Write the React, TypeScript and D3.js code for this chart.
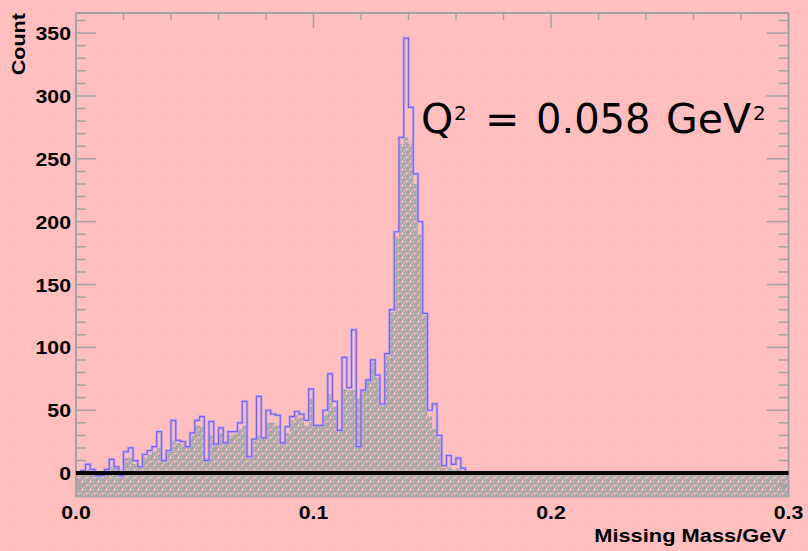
import React from "react";
import * as d3 from "d3";

// ---- data (bin width 0.002 GeV, starting at 0) ----
const binWidth = 0.002;
const nBins = 150;
const outlineCounts = [
  0, 2, 7, 3, -2, -2, 3, 11, 5, -2,
  17, 20, 10, 5, 15, 18, 21, 33, 10, 18, 42,
  26, 25, 21, 32, 42, 45, 10, 41, 23, 36, 24, 33, 33, 40, 57, 13, 27, 61, 28, 50,
  47, 46, 24, 37, 45, 49, 47, 42, 67, 38, 38, 50, 79, 57, 34, 92, 68, 114, 21, 66,
  74, 90, 78, 55, 95, 130, 192, 267, 346, 291, 238, 200, 127, 50, 55, 30, 6, 14, 7, 12,
  4, 1,
];
const filledCounts = [
  0, 1, 3, 1, -1, -1, 2, 5, 4, -1,
  12, 13, 7, 5, 13, 15, 17, 20, 11, 17, 26,
  24, 23, 21, 30, 38, 37, 12, 30, 22, 32, 24, 30, 31, 35, 38, 14, 26, 30, 28, 40,
  40, 38, 24, 32, 42, 46, 44, 38, 59, 38, 38, 46, 63, 53, 34, 67, 66, 66, 60, 66,
  74, 88, 76, 55, 93, 128, 188, 262, 267, 262, 230, 190, 125, 45, 35, 28, 4, 5, 3, 4,
  2, 0,
];
const xMajorTicks = [0, 0.1, 0.2, 0.3];
const xMajorLabels = ["0.0", "0.1", "0.2", "0.3"];
const yMajorTicks = [0, 50, 100, 150, 200, 250, 300, 350];
const xTitle = "Missing Mass/GeV";
const yTitle = "Count";

const W = 808;
const H = 551;
const L = 76, R = 788.5, T = 13, B = 497;

export default function App() {
  const x = d3.scaleLinear().domain([0, 0.3]).range([L, R]);
  const y = d3.scaleLinear().domain([-19, 366]).range([B, T]);

  const toPts = (arr: number[]) => {
    const pts: { x: number; v: number }[] = [];
    for (let i = 0; i < nBins; i++) pts.push({ x: i * binWidth, v: arr[i] ?? 0 });
    pts.push({ x: nBins * binWidth, v: arr[nBins - 1] ?? 0 });
    return pts;
  };
  const fillPts = toPts(filledCounts);
  const linePts = toPts(outlineCounts);

  const area = d3
    .area<{ x: number; v: number }>()
    .x((d) => x(d.x))
    .y0(B)
    .y1((d) => y(d.v))
    .curve(d3.curveStepAfter);
  const line = d3
    .line<{ x: number; v: number }>()
    .x((d) => x(d.x))
    .y((d) => y(d.v))
    .curve(d3.curveStepAfter);

  const xMinor = d3.range(0, 0.3001, 0.02).filter((v) => !xMajorTicks.some((m) => Math.abs(m - v) < 1e-6));
  const yMinor = d3.range(-10, 361, 10).filter((v) => v % 50 !== 0);

  const axisColor = "#a3a3a3";
  const bold = { fontFamily: "'Liberation Sans', Arial, sans-serif", fontWeight: 700 } as const;
  const pink = "#f7baba";
  const speck: [number, number, number, number][] = [
    [2, 0, 1, 1], [1, 1, 3, 1], [2, 2, 1, 1], [0, 3, 1, 1],
    [6, 4, 1, 1], [5, 5, 3, 1], [6, 6, 1, 1], [4, 7, 1, 1],
    [5, 1, 1, 1], [1, 5, 1, 1], [3, 6, 1, 1],
  ];
  const dejavu = "'DejaVu Sans', sans-serif";

  return (
    <svg width={W} height={H} style={{ position: "absolute", left: 0, top: 0 }}>
      <defs>
        <pattern id="speck" width={8} height={8} patternUnits="userSpaceOnUse">
          <rect width={8} height={8} fill="#a7a9a8" />
          {speck.map(([sx, sy, sw, sh], i) => (
            <rect key={i} x={sx} y={sy} width={sw} height={sh} fill={pink} />
          ))}
        </pattern>
        <pattern id="dots" width={21.5} height={21.5} patternUnits="userSpaceOnUse">
          <rect x={10} y={10} width={1} height={1} fill="#eeaaaa" />
        </pattern>
        <clipPath id="frame">
          <rect x={L} y={T} width={R - L} height={B - T} />
        </clipPath>
      </defs>
      <rect width={W} height={H} fill="#ffbfbf" />
      <rect width={W} height={H} fill="url(#dots)" />

      <g clipPath="url(#frame)">
        <path d={area(fillPts) ?? ""} fill="url(#speck)" />
        <path d={line(linePts) ?? ""} fill="none" stroke="#b4a4f4" strokeWidth={3} strokeOpacity={0.7} />
        <path d={line(linePts) ?? ""} fill="none" stroke="#7565ee" strokeWidth={1.2} />
      </g>

      {/* frame */}
      <line x1={L} y1={T} x2={L} y2={B} stroke={axisColor} strokeWidth={2} />
      <line x1={L} y1={T} x2={R} y2={T} stroke={axisColor} strokeWidth={2} />
      <line x1={R} y1={T} x2={R} y2={B} stroke={axisColor} strokeWidth={2} />
      <line x1={L} y1={B} x2={R} y2={B} stroke={axisColor} strokeWidth={1} />

      {/* y ticks left & right */}
      {yMajorTicks.map((v) => (
        <g key={"ym" + v}>
          <line x1={L} x2={L + 20} y1={y(v)} y2={y(v)} stroke={axisColor} strokeWidth={1.5} />
          <line x1={R} x2={R - 22} y1={y(v)} y2={y(v)} stroke={axisColor} strokeWidth={1.5} />
        </g>
      ))}
      {yMinor.map((v) => (
        <g key={"yn" + v}>
          <line x1={L} x2={L + 10} y1={y(v)} y2={y(v)} stroke={axisColor} strokeWidth={1.5} />
          <line x1={R} x2={R - 10} y1={y(v)} y2={y(v)} stroke={axisColor} strokeWidth={1.5} />
        </g>
      ))}
      {/* x ticks top */}
      {xMajorTicks.map((v) => (
        <line key={"xm" + v} x1={x(v)} x2={x(v)} y1={T} y2={T + 15} stroke={axisColor} strokeWidth={1.5} />
      ))}
      {xMinor.map((v) => (
        <line key={"xn" + v} x1={x(v)} x2={x(v)} y1={T} y2={T + 7} stroke={axisColor} strokeWidth={1.5} />
      ))}

      {/* zero line */}
      <line x1={L} x2={R} y1={y(0)} y2={y(0)} stroke="#000" strokeWidth={4} />

      {/* tick labels */}
      {yMajorTicks.map((v) => (
        <text key={"yl" + v} transform={`translate(71,${y(v) + 7}) scale(1.12,1)`} textAnchor="end" fontSize={19} style={bold} fill="#000">
          {String(v)}
        </text>
      ))}
      {xMajorTicks.map((v, i) => (
        <text key={"xl" + v} transform={`translate(${x(v)},519) scale(1.12,1)`} textAnchor="middle" fontSize={19} style={bold} fill="#000">
          {xMajorLabels[i]}
        </text>
      ))}

      {/* titles */}
      <text transform="translate(786,541.5) scale(1.15,1)" textAnchor="end" fontSize={19} style={bold} fill="#000">
        {xTitle}
      </text>
      <text transform="translate(25,13) rotate(-90) scale(1.2,1)" textAnchor="end" fontSize={18} style={bold} fill="#000">
        {yTitle}
      </text>

      {/* annotation: Q^2 = 0.058 GeV^2 */}
      <g fill="#000" fontFamily={dejavu}>
        <text x={421} y={133} fontSize={41}>Q</text>
        <text x={454} y={120} fontSize={20}>2</text>
        <text x={485} y={133} fontSize={41}>=</text>
        <text x={536} y={133} fontSize={40}>0.058</text>
        <text x={666} y={133} fontSize={41}>GeV</text>
        <text x={753} y={120} fontSize={20}>2</text>
      </g>
    </svg>
  );
}
